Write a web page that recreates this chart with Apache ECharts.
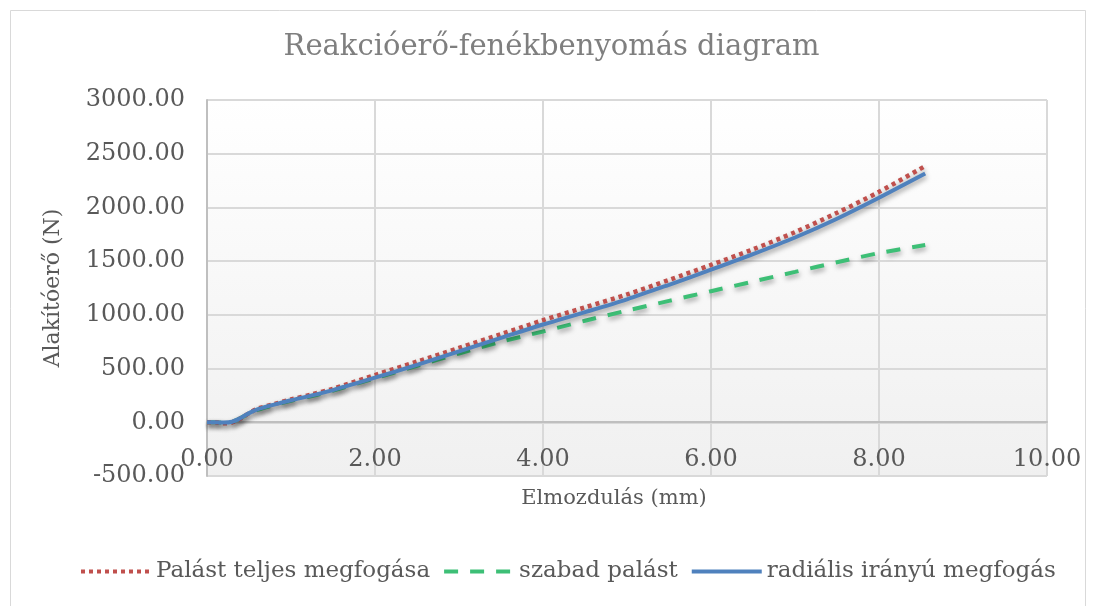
<!DOCTYPE html>
<html>
<head>
<meta charset="utf-8">
<script src="https://cdn.jsdelivr.net/npm/echarts@6/dist/echarts.min.js"></script>
<style>
  html, body { margin: 0; padding: 0; background: #ffffff; }
  #chart { width: 1103px; height: 606px; }
</style>
</head>
<body>
<div id="chart"></div>
<script>
// Displacement (mm) sampled along the stroke
const displacement = [0, 0.1, 0.2, 0.3, 0.4, 0.5, 0.6, 0.8, 1.0, 1.25, 1.5, 2.0, 2.5, 3.0, 3.5, 4.0, 4.5, 5.0, 5.5, 6.0, 6.5, 7.0, 7.5, 8.0, 8.55];

// Forming force (N) for each clamping variant
const teljesMegfogas = [0, 0, -10, 0, 35, 85, 125, 170, 212, 260, 312, 440, 565, 692, 820, 950, 1070, 1190, 1325, 1465, 1610, 1770, 1950, 2145, 2385];
const szabadPalast   = [0, 0, -3, 5, 40, 80, 115, 160, 200, 245, 295, 410, 525, 640, 750, 845, 945, 1040, 1130, 1220, 1310, 1400, 1490, 1575, 1650];
const radialisMegfogas = [0, 0, -3, 5, 40, 85, 120, 165, 205, 250, 300, 415, 535, 660, 785, 910, 1025, 1145, 1280, 1420, 1565, 1720, 1895, 2090, 2315];

const seriesNames = ['Palást teljes megfogása', 'szabad palást', 'radiális irányú megfogás'];

const titleText = 'Reakcióerő-fenékbenyomás diagram';
const xAxisName = 'Elmozdulás (mm)';
const yAxisName = 'Alakítóerő (N)';

const FONT = '"DejaVu Serif", serif';

function pairs(ys) {
  return displacement.map((x, i) => [x, ys[i]]);
}

const shadow = {
  shadowColor: 'rgba(0,0,0,0.35)',
  shadowBlur: 5,
  shadowOffsetX: 1,
  shadowOffsetY: 3
};

const chart = echarts.init(document.getElementById('chart'), null, { renderer: 'canvas' });

chart.setOption({
  animation: false,
  backgroundColor: '#ffffff',
  graphic: [{
    type: 'rect',
    shape: { x: 10.5, y: 10.5, width: 1075, height: 620 },
    style: { fill: 'none', stroke: '#d9d9d9', lineWidth: 1 },
    silent: true,
    z: -10
  }],
  title: {
    text: titleText,
    left: 'center',
    top: 28,
    padding: [5, 0, 5, 24],
    textStyle: { fontFamily: FONT, fontSize: 29, fontWeight: 'normal', color: '#7f7f7f' }
  },
  grid: {
    left: 207, right: 56, top: 100, bottom: 130,
    show: true,
    borderWidth: 0,
    backgroundColor: new echarts.graphic.LinearGradient(0, 0, 0, 1, [
      { offset: 0, color: '#ffffff' },
      { offset: 1, color: '#f0f0f0' }
    ])
  },
  legend: {
    bottom: 18,
    left: 74,
    itemWidth: 70,
    itemHeight: 4,
    itemGap: 12,
    itemTextGap: 5,
    itemStyle: { opacity: 0 },
    lineStyle: { width: 4, shadowBlur: 0, shadowOffsetX: 0, shadowOffsetY: 0 },
    textStyle: { fontFamily: FONT, fontSize: 23, color: '#595959' },
    data: seriesNames
  },
  xAxis: {
    type: 'value',
    min: 0, max: 10, interval: 2,
    name: xAxisName,
    nameLocation: 'middle',
    nameGap: 66,
    offset: -54,
    nameTextStyle: { fontFamily: FONT, fontSize: 21, color: '#595959', padding: [0, 26, 0, 0] },
    axisLine: { onZero: false, lineStyle: { color: '#bfbfbf', width: 2 } },
    axisTick: { show: false },
    axisLabel: {
      fontFamily: FONT, fontSize: 24, color: '#595959', margin: 26,
      formatter: v => v.toFixed(2)
    },
    splitLine: { show: true, lineStyle: { color: '#d9d9d9', width: 2 } }
  },
  yAxis: {
    type: 'value',
    min: -500, max: 3000, interval: 500,
    name: yAxisName,
    nameLocation: 'middle',
    nameGap: 143,
    nameTextStyle: { fontFamily: FONT, fontSize: 22, color: '#595959' },
    axisLine: { show: true, onZero: false, lineStyle: { color: '#bfbfbf', width: 2 } },
    axisTick: { show: false },
    axisLabel: {
      fontFamily: FONT, fontSize: 24, color: '#595959', margin: 22,
      formatter: v => v.toFixed(2)
    },
    splitLine: { show: true, lineStyle: { color: '#d9d9d9', width: 2 } }
  },
  series: [
    {
      name: seriesNames[0],
      type: 'line',
      smooth: 0.3,
      symbol: 'none',
      data: pairs(teljesMegfogas),
      itemStyle: { color: '#c0504d' },
      lineStyle: Object.assign({ color: '#c0504d', width: 4.5, type: [4, 4], cap: 'butt' }, shadow),
      z: 3
    },
    {
      name: seriesNames[1],
      type: 'line',
      smooth: 0.3,
      symbol: 'none',
      data: pairs(szabadPalast),
      itemStyle: { color: '#3dbf76' },
      lineStyle: Object.assign({ color: '#3dbf76', width: 4, type: [14, 12], cap: 'butt' }, shadow),
      z: 2
    },
    {
      name: seriesNames[2],
      type: 'line',
      smooth: 0.3,
      symbol: 'none',
      data: pairs(radialisMegfogas),
      itemStyle: { color: '#4f81bd' },
      lineStyle: Object.assign({ color: '#4f81bd', width: 4 }, shadow),
      z: 4
    }
  ]
});
</script>
</body>
</html>
